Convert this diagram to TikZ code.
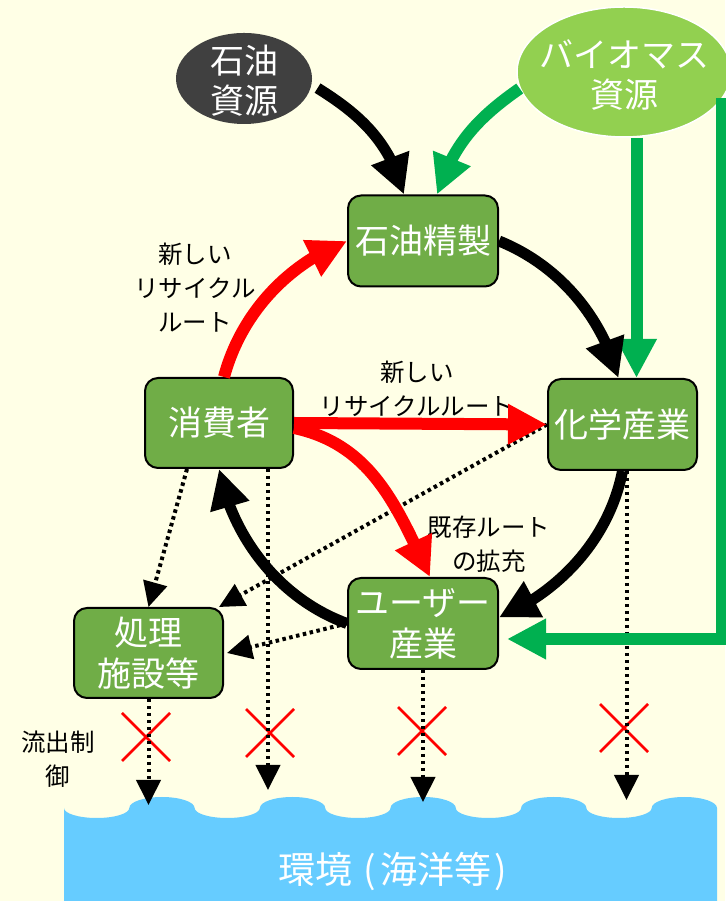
\documentclass[tikz,border=0pt]{standalone}
\usepackage{fontspec}
\setmainfont{Noto Sans CJK JP}
\usetikzlibrary{arrows.meta,bending,shapes.geometric}
\definecolor{bgc}{HTML}{FFFFE6}
\definecolor{boxgreen}{HTML}{70AD47}
\definecolor{oilgray}{HTML}{404040}
\definecolor{biogreen}{HTML}{92D050}
\definecolor{arrgreen}{HTML}{00B050}
\definecolor{sea}{HTML}{66CCFF}
\begin{document}
\begin{tikzpicture}[x=1pt,y=1pt,
  box/.style={draw=black, line width=2pt, fill=boxgreen, rounded corners=13pt,
    minimum width=150pt, minimum height=91pt, text=white,
    font=\fontsize{34}{41}\selectfont, align=center, inner sep=0pt},
  ntext/.style={text=white, font=\fontsize{34}{40}\selectfont, align=center, inner sep=0pt},
  lab/.style={text=black, font=\fontsize{24.5}{34}\selectfont, align=center, inner sep=0pt},
  blk/.style={draw=black, line width=11pt, -{Triangle[length=39pt,width=38pt]}},
  redarr/.style={draw=red, line width=12pt, -{Triangle[length=39pt,width=38pt]}},
  grn/.style={draw=arrgreen, line width=12pt, -{Triangle[length=39pt,width=38pt]}},
  dot/.style={draw=black, line width=4pt, dash pattern=on 3.5pt off 3.5pt,
    -{Triangle[length=25pt,width=24pt]}},
  redx/.style={draw=red, line width=2.5pt}]
\fill[bgc] (0,0) rectangle (725,901);
\useasboundingbox (0,0) rectangle (725,901);
% ocean
\fill[sea] (64,0) -- (64,93)
  \foreach \i in {1,...,5}{
    arc[start angle=180,end angle=360,x radius=32.65,y radius=10]
    arc[start angle=180,end angle=0,x radius=32.65,y radius=11]
  } -- (717,93) -- (717,0) -- cycle;
\node[text=white, font=\fontsize{37}{44}\selectfont, inner sep=0pt] (env) at (393,30)
  {環境\hspace{0.3em}(\hspace{0.12em}海洋等\hspace{0.08em})};
% resources
\node[ellipse, fill=oilgray, minimum width=136pt, minimum height=91pt, inner sep=0pt] (oil) at (244,822.5) {};
\node[ntext] (oiltext) at ([yshift=-2.5pt]oil.center) {石油\\資源};
\node[ellipse, fill=biogreen, draw=white, line width=1.5pt, minimum width=214pt, minimum height=130pt, inner sep=0pt] (bio) at (624,829) {};
\node[ntext] (biotext) at ([yshift=-3pt]bio.center) {バイオマス\\資源};
% boxes
\node[box] (refine) at (423,660) {石油精製};
\node[box, minimum width=148pt, minimum height=90pt] (consumer) at (219,478) {消費者};
\node[box, minimum width=149pt] (chem) at (622.5,476.5) {化学産業};
\node[box] (user) at (423,277.5) {ユーザー\\産業};
\node[box, minimum width=149pt, minimum height=90pt] (facility) at (148.5,248) {処理\\施設等};
% labels
\node[lab] (lab1) at (195,613.5) {新しい\\リサイクル\\ルート};
\node[lab] (lab2) at (417,512) {新しい\\リサイクルルート};
\node[lab] (lab3) at (489,357) {既存ルート\\の拡充};
\node[lab] (lab4) at (58,142) {流出制\\御};
% red crosses
\foreach \x/\y in {146/164, 270/168, 422/170, 624/173}{
  \draw[redx] (\x-24,\y-24) -- (\x+24,\y+24) (\x-24,\y+24) -- (\x+24,\y-24);
}
% dotted flows
\coordinate (e1) at (268,111);
\coordinate (e2) at (423,99);
\coordinate (e3) at (626.5,101);
\coordinate (e4) at (148.5,96);
\draw[dot] ([xshift=-32pt]consumer.south) -- (facility.north);
\draw[dot] (chem.west) -- ([xshift=-5pt]facility.north east);
\draw[dot] (user.west) -- ([xshift=3pt]facility.east);
\draw[dot] ([xshift=49pt]consumer.south) -- (e1);
\draw[dot] (user.south) -- (e2);
\draw[dot] ([xshift=4pt]chem.south) -- (e3);
\draw[dot] (facility.south) -- (e4);
% green flows
\coordinate (gtip) at ([xshift=14pt]chem.north);
\coordinate (gtop) at (722,803);
\coordinate (gcorner) at (722,262);
\coordinate (ueast) at ([xshift=8pt]user.east);
\draw[grn] (bio.189) to[out=215,in=72] ([xshift=14pt]refine.north);
\draw[grn] (gtip |- bio.south) -- (gtip);
\draw[grn] (gtop) -- (gcorner) -- (ueast |- gcorner);
% black cycle
\draw[blk, shorten <=7pt] (oil.-5) to[out=-32,in=105] ([xshift=-19pt]refine.north);
\draw[blk] (refine.east) to[out=-22,in=105,looseness=0.9] ([xshift=-4pt]chem.north);
\draw[blk] (chem.south) to[out=-101,in=23,looseness=0.9] ([yshift=6pt]user.east);
\draw[blk] (user.west) to[out=160,in=-79,looseness=0.9] (consumer.south);
% red recycle routes
\draw[redarr] ([xshift=5pt]consumer.north) to[out=75,in=-159,looseness=0.9] (refine.west);
\draw[redarr] (consumer.east) -- (chem.west);
\draw[redarr] ([yshift=-5pt]consumer.east) to[out=-12,in=115] ([xshift=7pt]user.north);
\end{tikzpicture}
\end{document}
